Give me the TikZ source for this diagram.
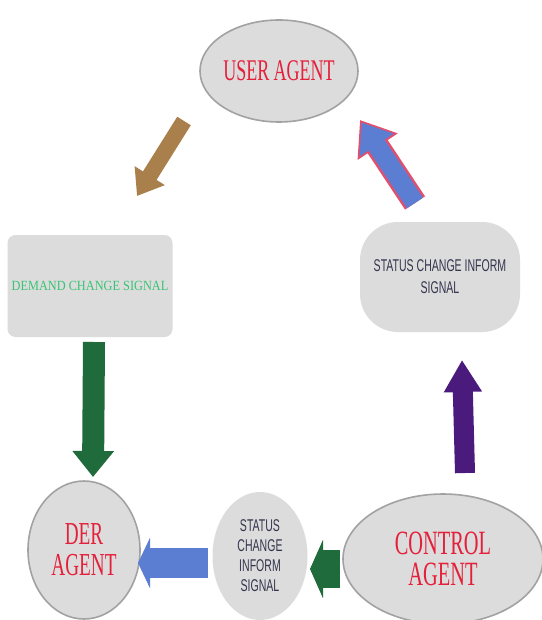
\documentclass[tikz,border=0pt]{standalone}
\usepackage{fontspec}
\usetikzlibrary{shapes.geometric,arrows.meta}
\newfontfamily\condserif[FakeStretch=0.6]{Liberation Serif}
\newfontfamily\semiserif[FakeStretch=0.88]{Liberation Serif}
\newfontfamily\condsans[FakeStretch=0.62]{Liberation Sans}
\definecolor{nodegray}{HTML}{DCDCDC}
\definecolor{bordergray}{HTML}{A2A2A2}
\definecolor{agentred}{HTML}{E4203A}
\definecolor{sigggreen}{HTML}{38C474}
\definecolor{signavy}{HTML}{35354F}
\definecolor{brownA}{HTML}{A9804C}
\definecolor{greenA}{HTML}{1F6B3C}
\definecolor{purpleA}{HTML}{4A1A7C}
\definecolor{blueA}{HTML}{5C7ED2}
\definecolor{pinkA}{HTML}{E0506E}
\tikzset{
  agent/.style={ellipse, fill=nodegray, draw=bordergray, line width=1.6pt, inner sep=0pt, align=center, text=agentred},
  sigbox/.style={rectangle, fill=nodegray, inner sep=0pt, align=center},
  fat/.style n args={4}{line width=#2pt, draw=#1, -{Triangle[width=#3pt,length=#4pt]}},
}
\begin{document}
\begin{tikzpicture}[x=1pt,y=-1pt]
\useasboundingbox (0,0) rectangle (541,620);
\fill[white] (0,0) rectangle (541,620);

% nodes
\node[agent, minimum width=158pt, minimum height=102pt, font={\condserif\fontsize{30}{32}\selectfont}] (user) at (279,71)
  {USER AGENT};
\node[sigbox, rounded corners=8pt, minimum width=165pt, minimum height=102pt, text=sigggreen, font={\semiserif\fontsize{14}{16}\selectfont}] (demand) at (90,286)
  {DEMAND CHANGE SIGNAL};
\node[sigbox, rounded corners=38pt, minimum width=160pt, minimum height=110pt, text=signavy, font={\condsans\fontsize{17}{22}\selectfont}] (statusR) at (440,277)
  {STATUS CHANGE INFORM\\ SIGNAL};
\node[agent, minimum width=112pt, minimum height=138pt, font={\condserif\fontsize{32}{31}\selectfont}] (der) at (84,550)
  {DER\\ AGENT};
\node[agent, draw=none, minimum width=95pt, minimum height=128pt, text=signavy, font={\condsans\fontsize{17}{20}\selectfont}] (statusM) at (260,556)
  {STATUS\\ CHANGE\\ INFORM\\ SIGNAL};
\node[agent, minimum width=200pt, minimum height=130pt, font={\condserif\fontsize{34}{31}\selectfont}] (control) at (443,559)
  {CONTROL\\ AGENT};

% arrow end points
\coordinate (brS) at (184,121);
\coordinate (brE) at (137,196);
\coordinate (btS) at (415,203);
\coordinate (btE) at (360,120);
\coordinate (glS) at (94,342);
\coordinate (glE) at (93,477);
\coordinate (puS) at (465,473);
\coordinate (puE) at (462,360);
\coordinate (bbS) at (208,563);
\coordinate (bbE) at (138,563);
\coordinate (gbS) at (340,569);
\coordinate (gbE) at (310,569);

% arrows
\draw[fat={brownA}{16}{34}{24}] (brS) -- (brE);
\draw[fat={pinkA}{24}{46}{32}] (btS) -- (btE);
\draw[fat={blueA}{19}{39}{27}, shorten >=3pt] (btS) -- (btE);
\draw[fat={greenA}{22}{40}{26}] (glS) -- (glE);
\draw[fat={purpleA}{20}{36}{32}] (puS) -- (puE);
\draw[fat={blueA}{30}{50}{12}] (bbS) -- (bbE);
\draw[fat={greenA}{38}{58}{13}] (gbS) -- (gbE);
\end{tikzpicture}
\end{document}
